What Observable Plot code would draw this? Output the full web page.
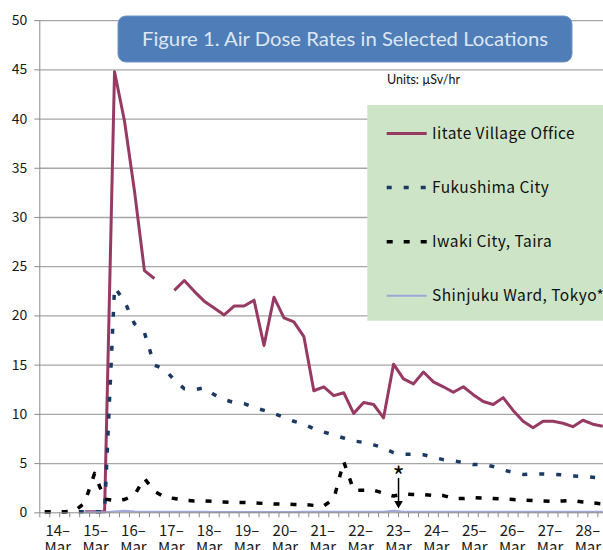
<!DOCTYPE html>
<html><head><meta charset="utf-8">
<script src="https://cdn.jsdelivr.net/npm/d3@7"></script>
<script src="https://cdn.jsdelivr.net/npm/@observablehq/plot@0.6"></script>
<style>
html,body{margin:0;padding:0;background:#fff;overflow:hidden;}
#chart{width:603px;height:550px;position:relative;overflow:hidden;}
</style></head><body><div id="chart"></div>
<script>
// Readings (µSv/hr) per sampling slot, slot 0 = early 14-Mar, ~4 slots per day
const iitate = [null,null,null,null,0.1,0.1,0.1,44.8,39.8,32.7,24.6,23.8,null,22.6,23.6,22.5,21.5,20.8,20.1,21.0,21.0,21.6,17.0,21.9,19.8,19.4,17.9,12.4,12.8,11.9,12.2,10.1,11.2,11.0,9.65,15.1,13.6,13.1,14.3,13.3,12.8,12.25,12.8,12.0,11.3,11.0,11.7,10.4,9.3,8.65,9.3,9.3,9.1,8.75,9.4,9.0,8.8];
const fukushima = [0.1,0.1,0.1,0.1,0.1,0.1,0.1,22.9,21.5,19.2,18.3,15.0,14.6,13.5,12.6,12.5,12.7,12.0,11.5,11.2,11.1,10.7,10.4,10.1,9.7,9.3,9.0,8.55,8.2,7.9,7.6,7.3,7.15,6.9,6.6,6.1,5.95,5.95,5.9,5.65,5.4,5.3,5.1,4.9,4.9,4.7,4.35,4.1,3.9,3.95,3.95,3.9,3.85,3.75,3.7,3.6,3.5];
const iwaki = [0.1,0.1,0.1,0.2,1.0,4.0,1.4,1.25,1.35,1.8,3.5,2.2,1.6,1.45,1.3,1.2,1.2,1.15,1.1,1.05,1.05,1.0,0.95,0.9,0.88,0.85,0.85,0.75,0.7,1.4,5.2,2.3,2.3,2.3,2.0,1.7,1.9,1.85,1.85,1.75,1.75,1.45,1.45,1.55,1.5,1.45,1.4,1.35,1.3,1.25,1.2,1.15,1.2,1.25,1.1,1.0,0.9];
const shinjuku = [null,null,null,null,0.05,0.05,0.05,0.12,0.2,0.12,0.1,0.1,0.1,0.1,0.1,0.1,0.1,0.07,0.07,0.07,0.07,0.07,0.07,0.07,0.07,0.07,0.1,0.1,0.1,0.1,0.1,0.1,0.1,0.1,0.1,0.2,0.1,0.1,0.1,0.1,0.1,0.1,0.1,0.1,0.1,0.1,0.1,0.1,0.1,0.1,0.1,0.1,0.1,0.1,0.1,0.1,0.1];

const seriesNames = ["Iitate Village Office","Fukushima City","Iwaki City, Taira","Shinjuku Ward, Tokyo*"];
const seriesColors = ["#963a64","#1b3a63","#000000","#9ea7d8"];
const seriesDash = [null,"5,12","6,11",null];
const seriesWidth = [3,3.5,3.5,2];

const dayLabels = ["14–","15–","16–","17–","18–","19–","20–","21–","22–","23–","24–","25–","26–","27–","28–"];
const dayPos = [1.3,5.1,8.9,12.7,16.5,20.3,24.1,27.9,31.7,35.5,39.3,43.1,46.9,50.7,54.5];
const monthLabel = "Mar";
const yTicks = [0,5,10,15,20,25,30,35,40,45,50];
const title = "Figure 1. Air Dose Rates in Selected Locations";
const unitsText = "Units: µSv/hr";
const noteSlot = 35.5, noteTop = 3.5, noteTip = 0.6;

const rows = vals => vals.map((v, i) => ({i, v}));
const allSeries = [iitate, fukushima, iwaki, shinjuku];
const slotEdges = d3.range(-0.5, iitate.length, 1);
const dayTicks = dayLabels.map((l, k) => ({x: dayPos[k], t: l + "\n" + monthLabel}));

const font = "'Noto Sans CJK JP', sans-serif";

const plot = Plot.plot({
  width: 603, height: 550,
  marginLeft: 39.3, marginRight: 0, marginTop: 20.1, marginBottom: 37.7,
  x: {domain: [-0.5, 56.07], axis: null},
  y: {domain: [0, 50], axis: null},
  style: {fontFamily: font, background: "white"},
  marks: [
    Plot.ruleY(yTicks.filter(d => d > 0), {stroke: "#a6a6a6", strokeWidth: 1.3}),
    Plot.axisY({ticks: yTicks, label: null, tickSize: 5, tickPadding: 7.5, fontSize: 14, stroke: "#8c8c8c", fill: "#1a1a1a", tickFormat: d => String(d)}),
    Plot.axisX({ticks: slotEdges, label: null, tickSize: 5, tickFormat: () => "", stroke: "#8c8c8c"}),
    Plot.text(dayTicks, {x: "x", text: "t", frameAnchor: "bottom", lineAnchor: "top", dy: 10.5, lineHeight: 1.15, fontSize: 15, fill: "#1a1a1a"}),
    ...allSeries.map((s, k) => Plot.line(rows(s), {
      x: "i", y: "v", stroke: seriesColors[k], strokeWidth: seriesWidth[k],
      strokeDasharray: seriesDash[k] || undefined, strokeLinejoin: "round", strokeLinecap: "butt"
    })),
    Plot.ruleX([-0.5], {stroke: "#8c8c8c"}),
    Plot.ruleY([0], {stroke: "#8c8c8c"}),
    Plot.ruleX([noteSlot], {y1: noteTop, y2: noteTip + 0.4, stroke: "#000", strokeWidth: 1.5}),
    Plot.dot([noteSlot], {x: d => d, y: noteTip + 0.35, symbol: "triangle", r: 3.2, fill: "#000", rotate: 180}),
    Plot.text([noteSlot], {x: d => d, y: 4.3, text: () => "*", fontSize: 26, fill: "#000", dy: 7})
  ]
});

const svg = d3.select(plot);
// title box
const tg = svg.append("g");
tg.append("rect").attr("x", 118).attr("y", 16).attr("width", 454).attr("height", 46).attr("rx", 8)
  .attr("fill", "#4f7db8").attr("stroke", "#6f95c7").attr("stroke-width", 1);
tg.append("text").attr("x", 345).attr("y", 46).attr("text-anchor", "middle")
  .attr("font-family", "Lato, 'Open Sans', sans-serif").attr("font-size", 20).attr("fill", "#dde7f3")
  .attr("textLength", 406).attr("lengthAdjust", "spacingAndGlyphs").text(title);
svg.append("text").attr("x", 387).attr("y", 84).attr("text-anchor", "start").attr("font-family", "Lato, sans-serif")
  .attr("font-size", 12.5).attr("fill", "#111").text(unitsText);

// legend
const lg = svg.append("g");
lg.append("rect").attr("x", 367.3).attr("y", 105).attr("width", 240).attr("height", 215.7).attr("fill", "#cde5c6");
const ly = [133.5, 187.5, 241.7, 295.7];
seriesNames.forEach((name, k) => {
  const ln = lg.append("line").attr("x1", 386.7).attr("x2", 426.7).attr("y1", ly[k]).attr("y2", ly[k])
    .attr("stroke", seriesColors[k]).attr("stroke-width", seriesWidth[k]);
  if (seriesDash[k]) ln.attr("stroke-dasharray", seriesDash[k]);
  lg.append("text").attr("x", 432).attr("y", ly[k] + 5.5).attr("text-anchor", "start").attr("font-family", font)
    .attr("font-size", 15.5).attr("letter-spacing", 0.45).attr("fill", "#111").text(name);
});

document.getElementById("chart").appendChild(plot);
</script></body></html>
